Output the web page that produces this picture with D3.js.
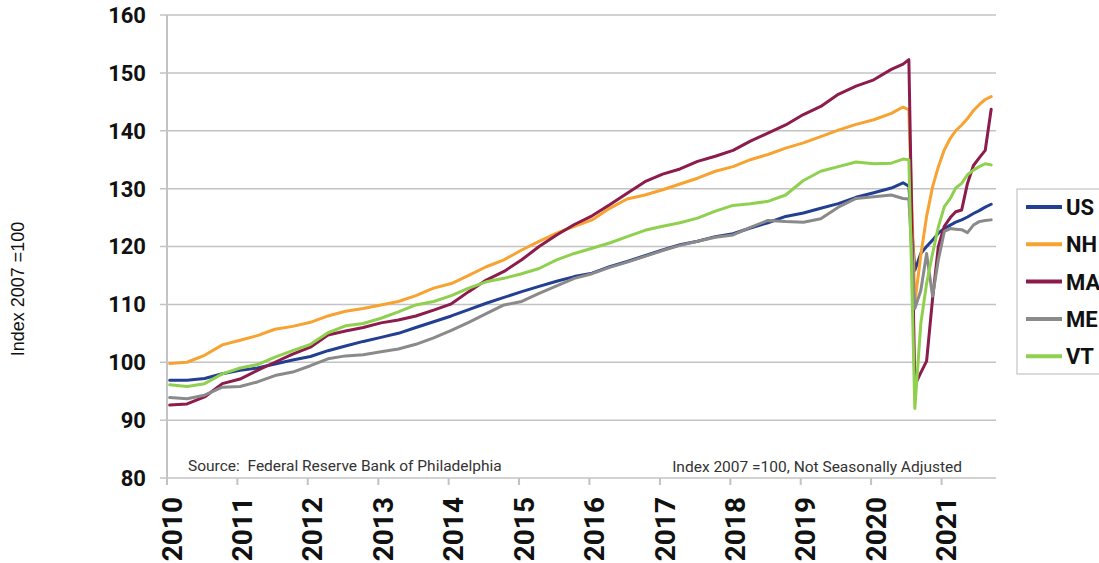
<!DOCTYPE html>
<meta charset="utf-8">
<head>
  <title>Coincident index, New England states vs US</title>
</head>

<style>
body { margin: 0; background: #fff; }
svg { display: block; font-family: Roboto, "Liberation Sans", Arial, sans-serif; }
.grid line { stroke: #c3c3c3; stroke-width: 1.5; }
.ylab { font-size: 22px; font-weight: 700; fill: #111; }
.xlab { font-size: 28px; font-weight: 700; fill: #111; }
.series { fill: none; stroke-width: 3; stroke-linejoin: round; stroke-linecap: round; }
.note { font-size: 15.5px; fill: #333; }
.leg text { font-size: 22px; font-weight: 700; fill: #111; }
</style>

<body>
  <div id="content">
    <svg width="1099" height="563"></svg>
  </div>

  <script src="https://cdn.jsdelivr.net/npm/d3@7/dist/d3.min.js"></script>

  <script>
var width = 1099, height = 563

// months (quarterly, then monthly around the 2020 drop)
let months = [
  "2010-01","2010-04","2010-07","2010-10","2011-01","2011-04","2011-07","2011-10",
  "2012-01","2012-04","2012-07","2012-10","2013-01","2013-04","2013-07","2013-10",
  "2014-01","2014-04","2014-07","2014-10","2015-01","2015-04","2015-07","2015-10",
  "2016-01","2016-04","2016-07","2016-10","2017-01","2017-04","2017-07","2017-10",
  "2018-01","2018-04","2018-07","2018-10","2019-01","2019-04","2019-07","2019-10",
  "2020-01","2020-04","2020-06","2020-07","2020-08","2020-09","2020-10","2020-11",
  "2020-12","2021-01","2021-02","2021-03","2021-04","2021-05","2021-06","2021-07",
  "2021-08","2021-09"
]

let us = [96.9,96.9,97.2,98.0,98.6,99.0,99.7,100.4,101.0,102.0,102.8,103.6,104.3,
  105.0,106.0,107.0,108.0,109.1,110.2,111.2,112.2,113.1,114.0,114.8,115.4,
  116.5,117.4,118.4,119.4,120.3,120.9,121.7,122.2,123.2,124.1,125.2,125.8,
  126.6,127.4,128.5,129.3,130.1,131.0,130.4,
  115.9,118.8,120.0,121.1,122.3,123.1,123.7,124.2,124.6,125.1,125.7,126.2,126.8,127.3]

let nh = [99.8,100.0,101.2,103.0,103.8,104.6,105.7,106.2,106.9,108.0,108.8,109.3,109.9,
  110.5,111.5,112.8,113.6,115.0,116.5,117.7,119.4,120.9,122.3,123.5,124.6,
  126.6,128.2,128.9,129.8,130.8,131.8,133.0,133.8,135.0,135.9,137.0,137.9,
  139.0,140.1,141.1,141.9,143.0,144.1,143.6,
  110.3,118.5,125.2,130.3,133.8,136.7,138.7,140.0,141.0,142.1,143.5,144.5,145.4,145.9]

let ma = [92.6,92.8,94.0,96.3,97.1,98.6,100.0,101.4,102.6,104.7,105.4,106.0,106.8,
  107.3,108.0,109.0,110.1,112.2,114.2,115.7,117.7,120.0,122.0,123.8,125.3,
  127.2,129.2,131.2,132.5,133.4,134.7,135.6,136.6,138.2,139.6,141.0,142.8,
  144.2,146.3,147.7,148.8,150.6,151.5,152.3,
  96.0,98.2,100.2,111.0,120.0,123.5,125.0,126.0,126.3,130.9,134.0,135.3,136.6,143.7]

let me = [93.9,93.7,94.3,95.7,95.8,96.6,97.7,98.3,99.4,100.6,101.1,101.3,101.8,
  102.3,103.1,104.2,105.5,106.9,108.4,109.9,110.5,111.9,113.2,114.5,115.3,
  116.4,117.3,118.3,119.3,120.2,120.9,121.6,122.0,123.3,124.5,124.3,124.2,
  124.8,126.8,128.3,128.6,128.9,128.3,128.2,
  109.3,112.4,118.8,111.4,117.7,122.6,123.1,123.0,122.9,122.4,123.7,124.3,124.5,124.6]

let vt = [96.1,95.8,96.3,98.0,99.0,99.6,100.9,102.0,103.1,105.1,106.3,106.7,107.6,
  108.7,109.9,110.5,111.5,112.8,113.9,114.5,115.3,116.2,117.7,118.8,119.7,
  120.6,121.7,122.8,123.5,124.1,124.9,126.1,127.1,127.4,127.8,128.9,131.4,
  133.0,133.8,134.6,134.3,134.4,135.1,135.0,
  92.0,106.7,113.6,118.8,123.4,126.9,128.3,130.1,130.9,132.4,133.2,133.8,134.3,134.1]

let seriesNames = ["US", "NH", "MA", "ME", "VT"]
let seriesValues = [us, nh, ma, me, vt]
let colors = ["#233f91", "#f8a231", "#8c1c4c", "#8a8a8a", "#8fd14f"]

let yTicks = [80, 90, 100, 110, 120, 130, 140, 150, 160]
let yearTicks = ["2010","2011","2012","2013","2014","2015","2016","2017","2018","2019","2020","2021"]

var parseMonth = d3.timeParse("%Y-%m")
var dates = months.map(function(m) { return d3.timeDay.offset(parseMonth(m), 14) })

var x = d3.scaleTime()
  .domain([new Date(2010, 0, 1), new Date(2021, 9, 10)])
  .range([167, 996])

var y = d3.scaleLinear()
  .domain([80, 160])
  .range([478, 15])

var svg = d3.select('svg')

// horizontal gridlines + y labels
var grid = svg.append('g').attr('class', 'grid')
grid.selectAll('line')
  .data(yTicks)
  .enter().append('line')
  .attr('x1', 160).attr('x2', 996)
  .attr('y1', function(d) { return y(d) })
  .attr('y2', function(d) { return y(d) })

svg.selectAll('.ylab')
  .data(yTicks)
  .enter().append('text')
  .attr('class', 'ylab')
  .attr('x', 146)
  .attr('y', function(d) { return y(d) })
  .attr('dy', '0.36em')
  .attr('text-anchor', 'end')
  .text(function(d) { return d })

// vertical axis line
svg.append('line')
  .attr('x1', 167).attr('x2', 167)
  .attr('y1', 15).attr('y2', 485)
  .attr('stroke', '#c3c3c3').attr('stroke-width', 2)

// year ticks under the x axis
var years = yearTicks.map(function(t) { return d3.timeParse("%Y")(t) })
svg.selectAll('.xtick')
  .data(years)
  .enter().append('line')
  .attr('class', 'xtick')
  .attr('x1', function(d) { return x(d) })
  .attr('x2', function(d) { return x(d) })
  .attr('y1', 478).attr('y2', 485)
  .attr('stroke', '#c3c3c3').attr('stroke-width', 2)

svg.selectAll('.xlab')
  .data(yearTicks)
  .enter().append('text')
  .attr('class', 'xlab')
  .attr('transform', function(d, i) {
    return 'translate(' + (x(years[i]) + 4.5) + ',497) rotate(-90)'
  })
  .attr('dy', '0.36em')
  .attr('text-anchor', 'end')
  .text(function(d) { return d })

// y axis title
svg.append('text')
  .attr('transform', 'translate(18,289) rotate(-90)')
  .attr('dy', '0.36em')
  .attr('text-anchor', 'middle')
  .style('font-family', '"Liberation Sans", Arial, sans-serif')
  .style('font-size', '18px')
  .attr('fill', '#111')
  .text('Index 2007 =100')

// notes inside the plot
svg.append('text')
  .attr('class', 'note')
  .attr('x', 188).attr('y', 471)
  .attr('xml:space', 'preserve')
  .text('Source:  Federal Reserve Bank of Philadelphia')

svg.append('text')
  .attr('class', 'note')
  .attr('x', 962).attr('y', 472)
  .attr('text-anchor', 'end')
  .text('Index 2007 =100, Not Seasonally Adjusted')

// series lines
var line = d3.line()
  .x(function(d, i) { return x(dates[i]) })
  .y(function(d) { return y(d) })

svg.selectAll('.series')
  .data(seriesValues)
  .enter().append('path')
  .attr('class', 'series')
  .attr('stroke', function(d, i) { return colors[i] })
  .attr('d', line)

// legend
var leg = svg.append('g').attr('class', 'leg')
leg.append('rect')
  .attr('x', 1017).attr('y', 189)
  .attr('width', 100).attr('height', 185)
  .attr('fill', '#fff')
  .attr('stroke', '#c3c3c3').attr('stroke-width', 1.2)

var items = leg.selectAll('.item')
  .data(seriesNames)
  .enter().append('g')
  .attr('class', 'item')
  .attr('transform', function(d, i) { return 'translate(0,' + (207 + i * 37.3) + ')' })

items.append('line')
  .attr('x1', 1026).attr('x2', 1062)
  .attr('stroke', function(d, i) { return colors[i] })
  .attr('stroke-width', 4)

items.append('text')
  .attr('x', 1066)
  .attr('dy', '0.36em')
  .text(function(d) { return d })
  </script>
</body>
</html>
